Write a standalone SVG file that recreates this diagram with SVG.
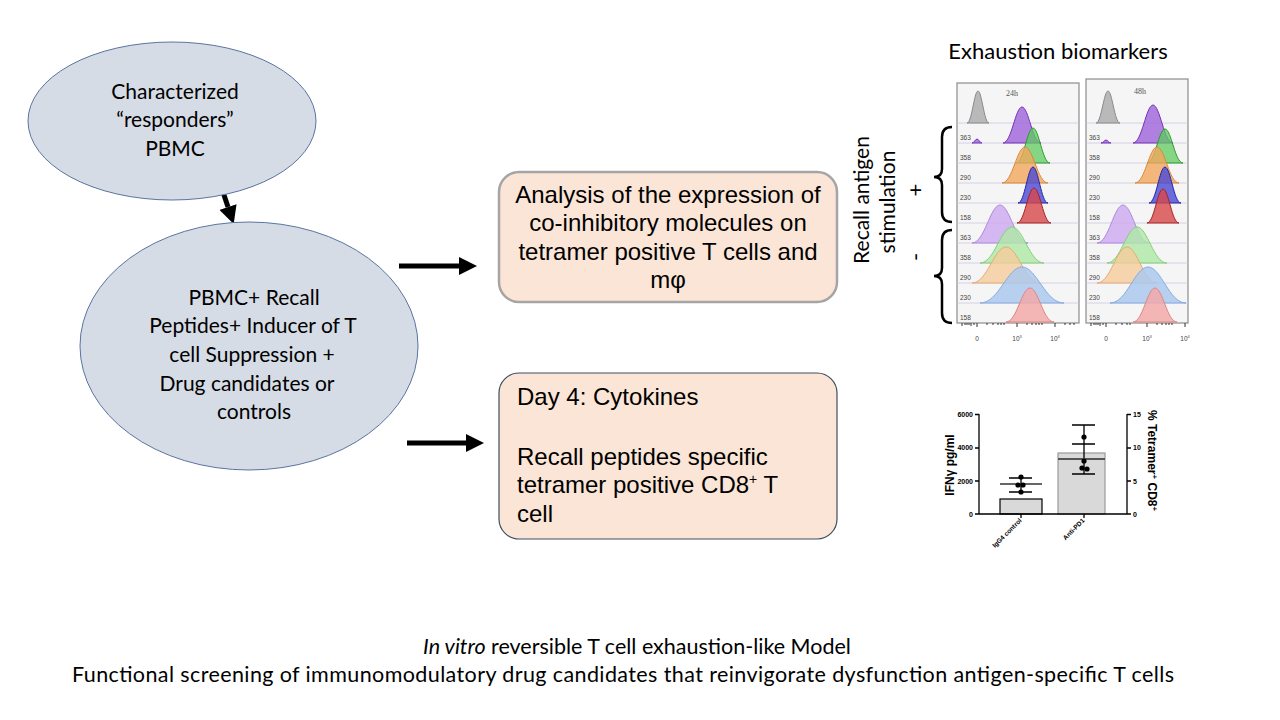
<svg xmlns="http://www.w3.org/2000/svg" width="1280" height="720" viewBox="0 0 1280 720">
<defs>
<style>
.ell{fill:#d6dce5;stroke:#5a74a0;stroke-width:1}
.tc{font-family:Lato,"Liberation Sans",sans-serif;fill:#000}
.ta{font-family:"Liberation Sans",Arial,sans-serif;fill:#000}
.box1{fill:#fbe5d6;stroke:#a5a5a5;stroke-width:2.5}
.box2{fill:#fbe5d6;stroke:#3e4e60;stroke-width:1.2}
.arr{stroke:#000;stroke-width:5;fill:none}
.brace{stroke:#000;stroke-width:2.5;fill:none}
.pan{fill:#f5f5f5;stroke:#8c8c8c;stroke-width:1.2}
.sep{stroke:#cdc6e4;stroke-width:0.8}
.lbl{font-family:"Liberation Sans",Arial,sans-serif;font-size:6.5px;fill:#444}
.hgr{fill:#b3b3b3;stroke:#8a8a8a;fill-opacity:.9}
.hpu{fill:#9f63dc;stroke:#7434b8;fill-opacity:.8}
.hgn{fill:#5dc95d;stroke:#2f9c2f;fill-opacity:.75}
.hor{fill:#f2a85e;stroke:#d9893a;fill-opacity:.8}
.hbl{fill:#4848d8;stroke:#2626a0;fill-opacity:.8}
.hrd{fill:#d84848;stroke:#a82424;fill-opacity:.8}
.plv{fill:#cfadf0;stroke:#b08ade;fill-opacity:.85}
.pgn{fill:#aee9a6;stroke:#84d07a;fill-opacity:.8}
.por{fill:#f6cc9c;stroke:#e6ab74;fill-opacity:.8}
.pbl{fill:#abc9ef;stroke:#86abe0;fill-opacity:.85}
.prd{fill:#f3a9a9;stroke:#e08585;fill-opacity:.85}
.bc{font-family:"Liberation Sans",Arial,sans-serif;font-weight:bold;fill:#000}
</style>
<path id="bell" vector-effect="non-scaling-stroke" stroke-width="1" d="M-1 0 C-0.55 0 -0.35 -1 0 -1 C0.35 -1 0.55 0 1 0 Z"/>
<marker id="ah" markerUnits="userSpaceOnUse" viewBox="0 0 18 18" refX="0" refY="9" markerWidth="18" markerHeight="18" orient="auto"><path d="M0 0 L18 9 L0 18 Z" fill="#000"/></marker>
</defs>
<rect width="1280" height="720" fill="#fff"/>

<g id="connectors">
<line class="arr" x1="219" y1="180" x2="228" y2="207" marker-end="url(#ah)"/>
<line class="arr" x1="399" y1="266" x2="459" y2="266" marker-end="url(#ah)"/>
<line class="arr" x1="407" y1="443" x2="466" y2="443" marker-end="url(#ah)"/>
</g>

<g id="node-responders">
<ellipse class="ell" cx="172" cy="121" rx="144" ry="79"/>
<text class="tc" font-size="21" text-anchor="middle"><tspan x="175" y="99">Characterized</tspan><tspan x="175" y="127">“responders”</tspan><tspan x="175" y="156">PBMC</tspan></text>
</g>

<g id="node-culture">
<ellipse class="ell" cx="249" cy="346" rx="169" ry="124"/>
<text class="tc" font-size="21" text-anchor="middle"><tspan x="254" y="305">PBMC+ Recall</tspan><tspan x="253" y="333">Peptides+ Inducer of T</tspan><tspan x="252" y="362">cell Suppression +</tspan><tspan x="247" y="391">Drug candidates or</tspan><tspan x="254" y="419">controls</tspan></text>
</g>

<g id="node-analysis">
<rect class="box1" x="499" y="172" width="338" height="130" rx="20"/>
<text class="ta" font-size="24" text-anchor="middle"><tspan x="668" y="203">Analysis of the expression of</tspan><tspan x="668" y="231">co-inhibitory molecules on</tspan><tspan x="668" y="260">tetramer positive T cells and</tspan><tspan x="668" y="288">mφ</tspan></text>
</g>

<g id="node-cytokines">
<rect class="box2" x="499" y="373" width="338" height="166" rx="20"/>
<text class="ta" font-size="24"><tspan x="517" y="405">Day 4: Cytokines</tspan><tspan x="517" y="465">Recall peptides specific</tspan><tspan x="517" y="493">tetramer positive CD8<tspan font-size="14" dy="-9">+</tspan><tspan dy="9"> T</tspan></tspan><tspan x="517" y="522">cell</tspan></text>
</g>

<g id="histograms">
<text class="tc" font-size="22" x="1058" y="59" text-anchor="middle">Exhaustion biomarkers</text>
<text class="tc" font-size="21" transform="translate(869,200) rotate(-90)" text-anchor="middle">Recall antigen</text>
<text class="tc" font-size="21" transform="translate(895,202) rotate(-90)" text-anchor="middle">stimulation</text>
<text class="tc" font-size="22" transform="translate(923,190) rotate(-90)" text-anchor="middle">+</text>
<text class="tc" font-size="22" transform="translate(923,257) rotate(-90)" text-anchor="middle">-</text>
<path class="brace" d="M952 127 Q942 127 942 137 L942 169 Q942 177 934 177 Q942 177 942 185 L942 212 Q942 222 952 222"/>
<path class="brace" d="M952 230 Q942 230 942 240 L942 268 Q942 276 934 276 Q942 276 942 284 L942 313 Q942 323 952 323"/>

<rect class="pan" x="957" y="83" width="122" height="240"/>
<rect class="pan" x="1086" y="79" width="102" height="244"/>
<path class="sep" d="M957 123H1079M957 143H1079M957 163H1079M957 183H1079M957 203H1079M957 223H1079M957 243H1079M957 263H1079M957 283H1079M957 303H1079M1086 123H1188M1086 143H1188M1086 163H1188M1086 183H1188M1086 203H1188M1086 223H1188M1086 243H1188M1086 263H1188M1086 283H1188M1086 303H1188"/>
<text x="1012" y="96" font-family="'Liberation Serif',serif" font-size="8" fill="#555" text-anchor="middle">24h</text>
<text x="1140" y="94" font-family="'Liberation Serif',serif" font-size="8" fill="#555" text-anchor="middle">48h</text>

<use href="#bell" class="hgr" transform="translate(978 123) scale(11 32)"/>
<use href="#bell" class="hpu" transform="translate(977 143) scale(5 4)"/>
<use href="#bell" class="hpu" transform="translate(1022 143) scale(19 36)"/>
<use href="#bell" class="hgn" transform="translate(1033 163) scale(17 35)"/>
<use href="#bell" class="hor" transform="translate(1025 183) scale(23 36)"/>
<use href="#bell" class="hbl" transform="translate(1033 203) scale(15 36)"/>
<use href="#bell" class="hrd" transform="translate(1034 223) scale(17 35)"/>
<use href="#bell" class="plv" transform="translate(1000 243) scale(28 38)"/>
<use href="#bell" class="pgn" transform="translate(1012 263) scale(32 36)"/>
<use href="#bell" class="por" transform="translate(1006 283) scale(34 36)"/>
<use href="#bell" class="pbl" transform="translate(1022 303) scale(42 36)"/>
<use href="#bell" class="prd" transform="translate(1030 322) scale(24 34)"/>
<use href="#bell" class="hgr" transform="translate(1108 123) scale(12 32)"/>
<use href="#bell" class="hpu" transform="translate(1106 143) scale(5 3)"/>
<use href="#bell" class="hpu" transform="translate(1153 143) scale(20 38)"/>
<use href="#bell" class="hgn" transform="translate(1165 163) scale(18 34)"/>
<use href="#bell" class="hor" transform="translate(1157 183) scale(22 36)"/>
<use href="#bell" class="hbl" transform="translate(1165 203) scale(16 36)"/>
<use href="#bell" class="hrd" transform="translate(1163 223) scale(16 34)"/>
<use href="#bell" class="plv" transform="translate(1123 243) scale(26 38)"/>
<use href="#bell" class="pgn" transform="translate(1137 263) scale(30 36)"/>
<use href="#bell" class="por" transform="translate(1127 283) scale(30 36)"/>
<use href="#bell" class="pbl" transform="translate(1148 303) scale(38 36)"/>
<use href="#bell" class="prd" transform="translate(1155 322) scale(22 34)"/>

<g class="lbl">
<text x="960" y="140">363</text><text x="960" y="160">358</text><text x="960" y="180">290</text><text x="960" y="200">230</text><text x="960" y="220">158</text>
<text x="960" y="240">363</text><text x="960" y="260">358</text><text x="960" y="280">290</text><text x="960" y="300">230</text><text x="960" y="320">158</text>
<text x="1089" y="140">363</text><text x="1089" y="160">358</text><text x="1089" y="180">290</text><text x="1089" y="200">230</text><text x="1089" y="220">158</text>
<text x="1089" y="240">363</text><text x="1089" y="260">358</text><text x="1089" y="280">290</text><text x="1089" y="300">230</text><text x="1089" y="320">158</text>
</g>
<path stroke="#333" stroke-width="1" d="M962 323v3M965 323v2M967 323v2M969 323v2M971 323v3M974 323v2M977 323v4M987 323v2M993 323v2M998 323v2M1001 323v2M1004 323v2M1017 323v4M1027 323v2M1032 323v2M1036 323v2M1039 323v2M1042 323v2M1055 323v4M1065 323v2M1070 323v2M1074 323v2M1091 323v3M1094 323v2M1096 323v2M1098 323v2M1100 323v3M1103 323v2M1106 323v4M1116 323v2M1122 323v2M1127 323v2M1130 323v2M1147 323v4M1157 323v2M1162 323v2M1166 323v2M1169 323v2M1172 323v2M1185 323v4"/>
<g class="lbl" text-anchor="middle">
<text x="977" y="341">0</text><text x="1017" y="341">10<tspan font-size="4" dy="-3">3</tspan></text><text x="1055" y="341">10<tspan font-size="4" dy="-3">4</tspan></text>
<text x="1106" y="341">0</text><text x="1147" y="341">10<tspan font-size="4" dy="-3">3</tspan></text><text x="1185" y="341">10<tspan font-size="4" dy="-3">4</tspan></text>
</g>
</g>

<g id="barchart">
<rect x="1000" y="499" width="42" height="15" fill="#d9d9d9" stroke="#000" stroke-width="1.2"/>
<rect x="1058" y="453" width="47" height="61" fill="#d9d9d9" stroke="#9a9a9a" stroke-width="1.2"/>
<path d="M979 414V514H1127V414M975 414.5H979M975 448H979M975 481H979M975 514H979M1127 414.5H1131M1127 448H1131M1127 481H1131M1127 514H1131M1021 514v4M1084 514v4" stroke="#000" stroke-width="1.3" fill="none"/>
<path d="M1021 477V492M1009 478H1032M1009 492H1032M1084 425V474M1072 425H1095M1072 444H1095M1072 474H1095" stroke="#000" stroke-width="1.3" fill="none"/>
<path d="M1000 484H1042" stroke="#333" stroke-width="1.6"/>
<path d="M1058 459H1105" stroke="#555" stroke-width="2"/>
<g fill="#000">
<circle cx="1021" cy="477" r="2.6"/><circle cx="1018" cy="485" r="2.6"/><circle cx="1023" cy="485" r="2.6"/><circle cx="1021" cy="492" r="2.6"/>
<circle cx="1084" cy="437" r="2.6"/><circle cx="1084" cy="461" r="2.6"/><circle cx="1082" cy="468" r="2.6"/><circle cx="1087" cy="469" r="2.6"/>
</g>
<g class="bc" font-size="7" text-anchor="end">
<text x="973" y="416.5">6000</text><text x="973" y="450">4000</text><text x="973" y="483.5">2000</text><text x="973" y="516.5">0</text>
</g>
<g class="bc" font-size="7">
<text x="1133" y="416.5">15</text><text x="1133" y="450">10</text><text x="1133" y="483.5">5</text><text x="1133" y="516.5">0</text>
</g>
<text class="bc" font-size="12" transform="translate(954 465) rotate(-90)" text-anchor="middle">IFNγ pg/ml</text>
<text class="bc" font-size="12" transform="translate(1148 410) rotate(90)">% Tetramer<tspan font-size="8" dy="-4">+</tspan><tspan dy="4"> CD8</tspan><tspan font-size="8" dy="-4">+</tspan></text>
<text class="bc" font-size="6.5" transform="translate(1022 521) rotate(-45)" text-anchor="end">IgG4 control</text>
<text class="bc" font-size="6.5" transform="translate(1085 521) rotate(-45)" text-anchor="end">Anti-PD1</text>
</g>

<g id="caption">
<text class="tc" font-size="21.5" x="637" y="654" text-anchor="middle"><tspan font-style="italic">In vitro</tspan> reversible T cell exhaustion-like Model</text>
<text class="tc" font-size="21.5" x="623" y="682" text-anchor="middle" textLength="1102" lengthAdjust="spacing">Functional screening of immunomodulatory drug candidates that reinvigorate dysfunction antigen-specific T cells</text>
</g>
</svg>
